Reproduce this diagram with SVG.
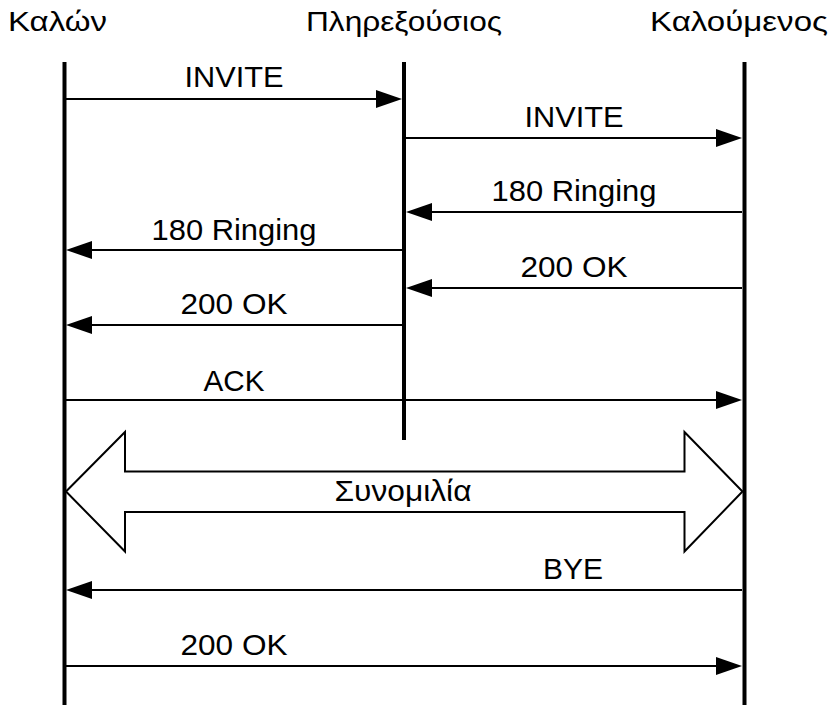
<svg xmlns="http://www.w3.org/2000/svg" width="834" height="705" viewBox="0 0 834 705">
<style>
  text { font-family: "Liberation Sans", Arial, sans-serif; fill: #000; }
  .hdr { font-size: 27px; }
  .lbl { font-size: 29px; text-anchor: middle; }
  .life { stroke: #000; stroke-width: 4; }
  .msg { stroke: #000; stroke-width: 2; fill: none; }
  .head { fill: #000; }
</style>
<rect width="834" height="705" fill="#fff"/>
<g id="caller">
  <text class="hdr" x="8" y="31" textLength="99" lengthAdjust="spacingAndGlyphs">Καλών</text>
  <line class="life" x1="64.5" y1="62" x2="64.5" y2="705"/>
</g>
<g id="proxy">
  <text class="hdr" x="306" y="31" textLength="196" lengthAdjust="spacingAndGlyphs">Πληρεξούσιος</text>
  <line class="life" x1="404" y1="62" x2="404" y2="440"/>
</g>
<g id="callee">
  <text class="hdr" x="650" y="31" textLength="178" lengthAdjust="spacingAndGlyphs">Καλούμενος</text>
  <line class="life" x1="744.5" y1="62" x2="744.5" y2="705"/>
</g>
<g id="connectors">
  <!-- INVITE caller->proxy -->
  <line class="msg" x1="66" y1="99" x2="378" y2="99"/>
  <polygon class="head" points="376,90 402,99 376,108"/>
  <text class="lbl" x="234" y="87" textLength="99" lengthAdjust="spacingAndGlyphs">INVITE</text>
  <!-- INVITE proxy->callee -->
  <line class="msg" x1="406" y1="138" x2="718" y2="138"/>
  <polygon class="head" points="716,129 742,138 716,147"/>
  <text class="lbl" x="574" y="127" textLength="99" lengthAdjust="spacingAndGlyphs">INVITE</text>
  <!-- 180 callee->proxy -->
  <line class="msg" x1="742" y1="212" x2="430" y2="212"/>
  <polygon class="head" points="432,203 406,212 432,221"/>
  <text class="lbl" x="574" y="201" textLength="165" lengthAdjust="spacingAndGlyphs">180 Ringing</text>
  <!-- 180 proxy->caller -->
  <line class="msg" x1="402" y1="250" x2="90" y2="250"/>
  <polygon class="head" points="92,241 66,250 92,259"/>
  <text class="lbl" x="234" y="240" textLength="165" lengthAdjust="spacingAndGlyphs">180 Ringing</text>
  <!-- 200 OK callee->proxy -->
  <line class="msg" x1="742" y1="288" x2="430" y2="288"/>
  <polygon class="head" points="432,279 406,288 432,297"/>
  <text class="lbl" x="574" y="277" textLength="107" lengthAdjust="spacingAndGlyphs">200 OK</text>
  <!-- 200 OK proxy->caller -->
  <line class="msg" x1="402" y1="325" x2="90" y2="325"/>
  <polygon class="head" points="92,316 66,325 92,334"/>
  <text class="lbl" x="234" y="314" textLength="107" lengthAdjust="spacingAndGlyphs">200 OK</text>
  <!-- ACK -->
  <line class="msg" x1="66" y1="400" x2="718" y2="400"/>
  <polygon class="head" points="716,391 742,400 716,409"/>
  <text class="lbl" x="234" y="391" textLength="61" lengthAdjust="spacingAndGlyphs">ACK</text>
  <!-- Conversation double arrow -->
  <polygon points="66,491.5 125,432 125,471.5 684.5,471.5 684.5,432 742.5,491.5 684.5,551.5 684.5,512 125,512 125,551.5" fill="#fff" stroke="#000" stroke-width="2" stroke-linejoin="miter"/>
  <text class="lbl" x="403" y="501" textLength="137" lengthAdjust="spacingAndGlyphs">Συνομιλία</text>
  <!-- BYE -->
  <line class="msg" x1="742" y1="590" x2="90" y2="590"/>
  <polygon class="head" points="92,581 66,590 92,599"/>
  <text class="lbl" x="573" y="579" textLength="60" lengthAdjust="spacingAndGlyphs">BYE</text>
  <!-- 200 OK final -->
  <line class="msg" x1="66" y1="666" x2="718" y2="666"/>
  <polygon class="head" points="716,657 742,666 716,675"/>
  <text class="lbl" x="234" y="655" textLength="107" lengthAdjust="spacingAndGlyphs">200 OK</text>
</g>
</svg>
